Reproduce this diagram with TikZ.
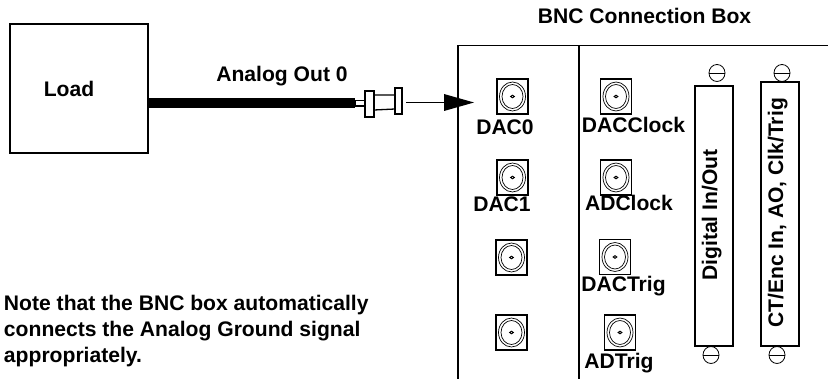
\documentclass[tikz,border=0pt]{standalone}
\usepackage{fontspec}
\setmainfont{Liberation Sans}
\begin{document}
\begin{tikzpicture}[x=1pt,y=-1pt,
 every node/.style={font=\bfseries\fontsize{21.1}{24}\selectfont,inner sep=0pt,outer sep=0pt},
 ln/.style={draw=black,line width=1.8pt},
 plug/.style={draw=black,line width=1.3pt,fill=white},
 lab/.style={anchor=base},
 note/.style={anchor=base west},
 bnc/.pic={
  \draw[line width=1.7pt,fill=white] (-15.5,-17.5) rectangle (15.5,17.5);
  \draw[line width=.7pt] (0,0) ellipse (13 and 14.5);
  \draw[line width=.7pt] (0,0) ellipse (10.5 and 12);
  \draw[line width=1pt] (0,0) ellipse (1.8 and 1.3);
 }]
\useasboundingbox (0,0) rectangle (828,379);
\node[ln,minimum width=138pt,minimum height=129pt,anchor=north west] (load) at (10,24) {};
\node[lab] (loadtext) at (69,97) {Load};
\node[lab] (aolabel) at (282,82) {Analog Out 0};
\node[lab] (title) at (644.5,24) {BNC Connection Box};
% panel
\coordinate (pbl) at (458,379);
\coordinate (ptl) at (458,45.5);
\coordinate (ptr) at (828,45.5);
\coordinate (dt) at (579,45.5);
\coordinate (db) at (579,379);
\draw[ln] (pbl) -- (ptl) -- (ptr);
\draw[ln] (dt) -- (db);
% cable
\coordinate (cable) at (355,103);
\draw[line width=10pt] (load.east |- cable) -- (cable);
% plug
\draw[plug] (355,100.5) rectangle (365,106);
\draw[plug] (374,95) -- (395,95) -- (395,109) -- (374,110) -- cycle;
\draw[plug] (365,91) rectangle (374,117);
\draw[plug] (395,88) rectangle (402,114);
% arrow
\coordinate (arrs) at (406,102.5);
\coordinate (arre) at (474,102.5);
\draw[line width=1.2pt] (arrs) -- (445,102.5);
\fill (444,94) -- (arre) -- (444,111) -- cycle;
% connectors
\foreach \p in {(512.5,96.5),(512.5,177.5),(511.5,257.5),(511.5,332.5),(616,96.5),(616,177.5),(615,257),(620,332.5)}
  \pic at \p {bnc};
\node[lab] (d0) at (505,135) {DAC0};
\node[lab] (d1) at (502,212) {DAC1};
\node[lab] (d2) at (633.5,133) {DACClock};
\node[lab] (d3) at (629,211) {ADClock};
\node[lab] (d4) at (623.5,292) {DACTrig};
\node[lab] (d5) at (619,369) {ADTrig};
% strips
\node[ln,minimum width=38pt,minimum height=260pt,anchor=north west] (dio) at (695,86) {};
\node[ln,minimum width=38pt,minimum height=264pt,anchor=north west] (ct) at (761,82) {};
\node[rotate=90,lab] (diotext) at (717,215) {Digital In/Out};
\node[rotate=90,lab] (cttext) at (783,213) {CT/Enc In, AO, Clk/Trig};
\foreach \c/\y in {717/73,782/73,711/355,777/355}{
  \draw[line width=.8pt] (\c,\y) ellipse (8 and 8.5);
  \draw[line width=.8pt] (\c-8,\y) -- (\c+8,\y);
}
\node[note] (note1) at (4,311) {Note that the BNC box automatically};
\node[note] (note2) at (4,337) {connects the Analog Ground signal};
\node[note] (note3) at (4,363) {appropriately.};
\end{tikzpicture}
\end{document}
